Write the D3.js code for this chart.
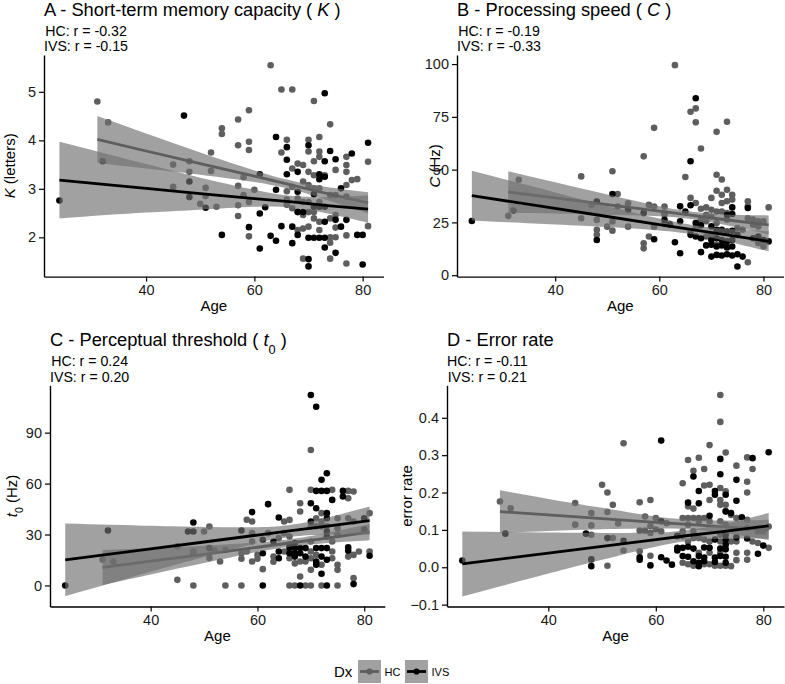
<!DOCTYPE html>
<html><head><meta charset="utf-8">
<script src="https://cdn.jsdelivr.net/npm/d3@7"></script>
<style>
body{margin:0;background:#fff}
svg text{font-family:"Liberation Sans",Arial,Helvetica,sans-serif}
</style>
</head><body>
<svg id="c" width="785" height="684"></svg>
<script>
// ---------------- data ----------------
const groups = ["HC", "IVS"];
const ageTicks = [40, 60, 80];
const ageLimits = [21.15, 83.85];

// Panel A: K (letters)  [age, value]
const A_HC = [[31,4.80],[33,4.37],[45,3.50],[45,3.04],[48,3.57],[48,3.35],[50,2.69],[51,3.02],[51,2.85],[52,3.75],[52,3.37],[53,2.63],[54,4.25],[54,4.13],[57,4.43],[57,3.90],[57,3.06],[57,2.66],[57,2.44],[58,3.24],[58,2.87],[59,4.62],[59,3.97],[59,3.80],[59,2.73],[59,2.02],[60,2.98],[63,5.55],[65,5.05],[65,3.75],[66,4.01],[66,2.95],[66,2.78],[66,2.67],[67,5.05],[67,3.42],[67,3.04],[67,2.60],[68,3.52],[68,2.80],[68,2.53],[68,2.15],[69,3.49],[69,3.15],[69,2.73],[69,2.46],[69,2.18],[69,1.56],[70,4.01],[70,3.77],[70,3.35],[70,3.08],[70,2.73],[70,2.52],[70,2.22],[71,4.81],[71,3.57],[71,3.28],[71,3.01],[71,2.52],[71,2.39],[72,4.07],[72,3.77],[72,3.66],[72,3.01],[72,2.73],[72,2.32],[72,2.15],[73,3.28],[74,4.33],[74,2.87],[74,2.39],[74,2.00],[74,1.89],[74,1.56],[75,3.39],[75,2.87],[75,2.46],[75,2.20],[75,2.00],[77,3.66],[77,3.49],[77,3.35],[77,3.08],[77,2.84],[77,2.04],[77,1.46],[78,3.18],[79,3.20],[81,3.56],[81,2.23]];
const A_IVS = [[24,2.76],[32,3.57],[47,4.51],[48,3.15],[48,2.83],[51,2.61],[54,2.05],[59,2.21],[61,3.30],[61,2.49],[61,1.77],[62,2.62],[63,2.03],[64,4.07],[64,2.98],[64,1.93],[65,2.23],[66,3.86],[66,3.60],[66,3.30],[67,2.22],[67,1.88],[68,3.35],[68,2.94],[68,2.52],[68,2.05],[69,2.52],[70,3.90],[70,1.99],[70,1.55],[70,1.40],[71,2.89],[71,2.63],[71,1.99],[72,3.30],[72,3.20],[72,2.63],[72,1.99],[73,4.97],[73,3.57],[73,3.25],[73,2.63],[73,2.32],[73,1.99],[73,1.79],[74,3.78],[75,3.61],[75,2.36],[75,1.68],[76,3.01],[76,2.22],[77,2.36],[78,3.73],[79,2.05],[80,2.05],[80,1.44],[81,3.95]];
// regression line + 95% band: [age, fit, lower, upper]
const A_HC_fit = [[31,4.02,3.54,4.50],[40,3.78,3.42,4.14],[50,3.52,3.29,3.75],[60,3.26,3.14,3.38],[66,3.10,3.01,3.19],[72,2.94,2.82,3.06],[81,2.71,2.49,2.93]];
const A_IVS_fit = [[24,3.18,2.39,3.97],[40,3.01,2.51,3.51],[50,2.90,2.57,3.23],[60,2.80,2.63,2.98],[67,2.73,2.61,2.85],[74,2.65,2.48,2.83],[81,2.58,2.30,2.86]];
const A_yTicks = [2, 3, 4, 5];

// Panel B: C (Hz)
const B_HC = [[31,28.1],[33,45.2],[45,46.8],[45,27.0],[47,33.3],[48,26.2],[48,21.5],[48,19.1],[50,23.0],[51,49.2],[51,25.4],[51,21.1],[52,38.4],[52,32.5],[54,34.1],[54,23.0],[57,56.3],[57,15.1],[57,12.7],[58,18.3],[58,33.3],[59,69.8],[59,32.5],[59,23.0],[61,32.5],[61,29.4],[61,28.6],[61,24.3],[62,24.3],[63,99.5],[65,46.5],[66,77.4],[66,36.6],[66,20.7],[67,79.0],[67,72.4],[67,34.2],[67,22.3],[68,60.0],[68,31.5],[68,26.3],[69,32.1],[69,28.6],[69,25.5],[69,18.3],[70,36.6],[70,31.0],[70,27.8],[70,19.1],[71,67.9],[71,47.6],[71,40.0],[71,30.2],[71,24.7],[71,14.4],[72,45.3],[72,38.1],[72,34.2],[72,30.2],[73,72.7],[73,40.5],[73,35.0],[73,29.4],[73,26.3],[73,13.6],[74,38.1],[74,35.8],[75,22.3],[76,21.5],[77,35.0],[77,32.6],[77,27.0],[77,6.1],[78,26.3],[78,23.9],[79,25.5],[79,23.1],[79,15.2],[80,25.5],[80,13.6],[81,32.1]];
const B_IVS = [[24,25.7],[32,30.6],[48,34.9],[48,16.7],[51,38.4],[54,31.0],[57,29.4],[59,17.0],[61,26.2],[62,23.9],[63,15.6],[64,32.6],[64,25.5],[64,10.4],[65,30.2],[66,54.0],[66,33.1],[66,19.1],[67,83.8],[67,24.7],[67,18.3],[68,23.6],[68,17.5],[68,10.9],[69,14.1],[70,23.1],[70,16.7],[70,14.4],[70,8.8],[71,21.5],[71,17.5],[71,13.6],[71,9.6],[72,21.5],[72,16.7],[72,14.1],[72,9.3],[73,28.5],[73,20.7],[73,16.0],[73,13.1],[73,9.9],[74,32.1],[74,29.0],[74,21.0],[74,16.7],[74,13.6],[74,9.3],[75,19.1],[75,9.9],[75,4.1],[76,8.8],[77,31.8],[78,17.5],[79,18.3],[80,16.7],[81,16.0]];
const B_HC_fit = [[31,39.4,29.6,49.2],[40,36.6,29.2,44.0],[50,33.4,28.6,38.2],[60,30.3,27.9,32.7],[66,28.4,26.6,30.2],[72,26.5,24.1,28.9],[81,23.8,19.3,28.3]];
const B_IVS_fit = [[24,37.7,25.9,49.5],[40,31.6,24.0,39.2],[50,27.8,22.8,32.8],[60,24.0,21.2,26.8],[66,21.7,19.5,23.9],[72,19.4,16.6,22.2],[81,16.0,11.3,20.8]];
const B_yTicks = [0, 25, 50, 75, 100];

// Panel C: t0 (Hz)
const C_HC = [[31,15.1],[33,14.1],[45,23.0],[45,3.3],[48,20.0],[48,18.6],[48,0],[50,31.8],[51,34.7],[51,16.1],[52,20.6],[53,14.1],[54,21.0],[54,0],[57,0],[57,19.0],[57,15.7],[58,38.7],[58,20.0],[59,37.7],[59,30.8],[59,25.9],[59,14.1],[60,15.7],[60,18.0],[61,9.6],[62,30.8],[63,17.0],[63,14.0],[64,27.9],[65,37.7],[65,30.8],[65,20.0],[66,56.3],[66,38.6],[66,28.8],[66,16.0],[66,0],[67,13.0],[67,0],[68,48.4],[68,43.6],[68,14.1],[68,5.3],[69,14.1],[69,0],[70,79.8],[70,56.3],[70,34.8],[70,25.9],[70,20.0],[70,16.0],[70,9.2],[70,0],[71,39.6],[71,34.8],[71,18.0],[72,42.6],[72,37.7],[72,34.8],[72,12.2],[72,0],[73,34.8],[74,56.3],[74,25.9],[74,20.0],[74,16.0],[75,39.6],[75,33.7],[75,29.8],[75,12.2],[75,9.2],[75,0],[77,55.7],[77,51.4],[77,39.6],[77,17.0],[78,55.3],[78,37.7],[78,18.0],[78,4.3],[79,20.0],[80,32.8],[81,42.6],[81,20.0]];
const C_IVS = [[24,0],[32,32.4],[47,31.8],[48,31.8],[48,37.1],[51,22.0],[57,32.4],[59,43.2],[61,26.9],[61,19.0],[61,0],[62,47.9],[63,25.9],[64,40.0],[64,20.0],[64,16.0],[66,24.0],[66,22.0],[66,19.0],[67,25.0],[67,22.0],[67,19.0],[67,17.0],[68,22.0],[68,19.0],[68,0],[69,22.0],[69,17.0],[70,112.2],[70,48.4],[70,37.7],[71,105.3],[71,55.7],[71,45.5],[71,22.0],[71,14.1],[71,12.2],[72,62.2],[72,55.7],[72,22.0],[72,17.0],[72,6.9],[73,66.1],[73,55.7],[73,42.6],[73,39.6],[73,31.8],[73,28.8],[73,22.0],[73,15.1],[73,0],[74,50.4],[76,55.7],[76,52.4],[77,22.4],[77,20.4],[78,0.8],[80,39.6],[80,33.0],[81,17.5]];
const C_HC_fit = [[31,10.6,0.3,20.9],[40,14.3,6.5,22.1],[50,18.3,13.2,23.4],[60,22.5,19.7,25.3],[66,25.0,22.8,27.2],[72,27.5,24.7,30.3],[81,31.4,26.6,36.2]];
const C_IVS_fit = [[24,15.1,-6.3,36.5],[40,21.6,8.1,35.1],[50,25.6,16.8,34.4],[60,29.7,25.1,34.3],[66,32.1,28.6,35.6],[72,34.5,29.9,39.1],[81,38.2,29.9,46.5]];
const C_yTicks = [0, 30, 60, 90];

// Panel D: error rate
const D_HC = [[31,0.176],[33,0.158],[45,0.172],[45,0.114],[48,0.145],[48,0.112],[48,0.087],[50,0.221],[51,0.200],[51,0.148],[51,0.004],[52,0.078],[52,0.167],[53,0.117],[54,0.332],[54,0.045],[57,0.174],[57,0.098],[57,0.043],[58,0.136],[58,0.098],[59,0.180],[59,0.110],[59,0.092],[59,0.031],[60,0.132],[60,0.101],[61,0.096],[62,0.118],[64,0.083],[65,0.225],[65,0.132],[65,0.096],[65,0.083],[65,0.012],[66,0.287],[66,0.163],[66,0.132],[66,0.114],[66,0.069],[66,0.008],[67,0.258],[67,0.157],[67,0.132],[67,0.096],[67,0.078],[67,0.004],[68,0.293],[68,0.132],[68,0.123],[68,0.078],[68,0.039],[69,0.263],[69,0.219],[69,0.132],[69,0.074],[69,0.008],[70,0.327],[70,0.221],[70,0.180],[70,0.123],[70,0.069],[70,0.039],[70,0.008],[71,0.004],[72,0.461],[72,0.389],[72,0.212],[72,0.180],[72,0.167],[72,0.123],[72,0.087],[72,0.069],[72,0.039],[72,0.004],[73,0.307],[73,0.203],[73,0.167],[73,0.151],[73,0.114],[73,0.004],[74,0.140],[74,0.069],[74,0.003],[75,0.272],[75,0.132],[75,0.069],[75,0.039],[75,0.019],[77,0.294],[77,0.229],[77,0.200],[77,0.127],[77,0.105],[77,0.039],[77,0.020],[78,0.263],[78,0.069],[79,0.096],[79,0.065],[80,0.096],[81,0.109],[81,0.052]];
const D_IVS = [[24,0.018],[32,0.090],[47,0.090],[48,0.021],[48,0.003],[51,0.078],[54,0.071],[57,0.027],[57,0.020],[59,0.005],[61,0.339],[61,0.123],[61,0.027],[62,0.018],[63,0.007],[64,0.084],[64,0.052],[64,0.045],[65,0.052],[65,0.030],[66,0.173],[66,0.055],[66,0.028],[67,0.243],[67,0.050],[67,0.016],[68,0.204],[68,0.171],[68,0.030],[68,0.012],[68,0.003],[69,0.053],[69,0.026],[69,0.016],[70,0.138],[70,0.052],[71,0.204],[71,0.194],[71,0.074],[71,0.026],[71,0.014],[72,0.290],[72,0.249],[72,0.050],[72,0.030],[73,0.194],[73,0.149],[73,0.087],[73,0.074],[73,0.060],[73,0.048],[73,0.028],[73,0.012],[74,0.145],[75,0.234],[75,0.178],[75,0.080],[76,0.134],[77,0.077],[78,0.292],[79,0.036],[80,0.058],[81,0.308]];
const D_HC_fit = [[31,0.149,0.092,0.206],[40,0.140,0.097,0.183],[50,0.130,0.102,0.159],[60,0.120,0.104,0.136],[66,0.115,0.102,0.128],[72,0.109,0.093,0.125],[81,0.100,0.073,0.127]];
const D_IVS_fit = [[24,0.009,-0.078,0.096],[40,0.038,-0.017,0.093],[50,0.056,0.020,0.092],[60,0.074,0.055,0.093],[66,0.085,0.070,0.100],[72,0.095,0.076,0.114],[81,0.111,0.077,0.145]];
const D_yTicks = [-0.1, 0.0, 0.1, 0.2, 0.3, 0.4];

const corrText = {
  A: ["HC: r = -0.32", "IVS: r = -0.15"],
  B: ["HC: r = -0.19", "IVS: r = -0.33"],
  C: ["HC: r = 0.24", "IVS: r = 0.20"],
  D: ["HC: r = -0.11", "IVS: r = 0.21"]
};

// ---------------- style / layout ----------------
const colHC = "#5e5e5e", colIVS = "#000000";
const ribbonFill = "#707070", ribbonOpacity = 0.66;
const FONT_TITLE = 18.3, FONT_SUB = 14.2, FONT_TICK = 14.5, FONT_AXT = 15;

const panels = [
  {id:"A", hc:A_HC, ivs:A_IVS, hcFit:A_HC_fit, ivsFit:A_IVS_fit, yTicks:A_yTicks, yLim:[1.19,5.76], fmt:d3.format("d"),
   l:44, r:383.5, t:55, b:276.6, titleY:15.5, subY:[35.5,51], xlabY:311, ylabX:15,
   title:[["A - Short-term memory capacity ( ",0],["K",1],[" )",0]], ylab:[["K",1],["  (letters)",0]]},
  {id:"B", hc:B_HC, ivs:B_IVS, hcFit:B_HC_fit, ivsFit:B_IVS_fit, yTicks:B_yTicks, yLim:[-0.67,104.3], fmt:d3.format("d"),
   l:457, r:783.5, t:55, b:276.6, titleY:15.5, subY:[35.5,51], xlabY:311, ylabX:440,
   title:[["B - Processing speed ( ",0],["C",1],[" )",0]], ylab:[["C",1],["  (Hz)",0]]},
  {id:"C", hc:C_HC, ivs:C_IVS, hcFit:C_HC_fit, ivsFit:C_IVS_fit, yTicks:C_yTicks, yLim:[-12.4,117.9], fmt:d3.format("d"),
   l:50, r:384.8, t:385.3, b:606.5, titleY:345.5, subY:[366,381.5], xlabY:641, ylabX:17,
   title:[["C - Perceptual threshold ( ",0],["t",1],["0",2],[" )",0]], ylab:[["t",1],["0",2],[" (Hz)",0]]},
  {id:"D", hc:D_HC, ivs:D_IVS, hcFit:D_HC_fit, ivsFit:D_IVS_fit, yTicks:D_yTicks, yLim:[-0.105,0.487], fmt:d3.format(".1f"),
   l:447, r:784, t:385.3, b:606.5, titleY:345.5, subY:[366,381.5], xlabY:641, ylabX:412,
   title:[["D - Error rate",0]], ylab:[["error rate",0]]}
];

const svg = d3.select("#c");

function richText(sel, parts, size) {
  parts.forEach(([txt, kind]) => {
    const ts = sel.append("tspan").text(txt);
    if (kind === 1) ts.attr("font-style", "italic");
    if (kind === 2) ts.attr("font-size", size * 0.7).attr("baseline-shift", "sub");
  });
}

panels.forEach(p => {
  const g = svg.append("g");
  const x = d3.scaleLinear().domain(ageLimits).range([p.l, p.r]);
  const y = d3.scaleLinear().domain(p.yLim).range([p.b, p.t]);

  // points: HC first, IVS on top
  g.append("g").selectAll("circle").data(p.hc).join("circle")
    .attr("cx", d => x(d[0])).attr("cy", d => y(d[1])).attr("r", 3.3).attr("fill", colHC);
  g.append("g").selectAll("circle").data(p.ivs).join("circle")
    .attr("cx", d => x(d[0])).attr("cy", d => y(d[1])).attr("r", 3.3).attr("fill", colIVS);

  // smoothers: ribbon then line for each group
  const area = d3.area().x(d => x(d[0])).y0(d => y(d[2])).y1(d => y(d[3])).curve(d3.curveNatural);
  const line = d3.line().x(d => x(d[0])).y(d => y(d[1]));
  [[p.hcFit, colHC], [p.ivsFit, colIVS]].forEach(([fit, col]) => {
    g.append("path").attr("d", area(fit)).attr("fill", ribbonFill).attr("fill-opacity", ribbonOpacity);
    g.append("path").attr("d", line(fit)).attr("fill", "none").attr("stroke", col).attr("stroke-width", 2.8);
  });

  // axes
  const xAxis = d3.axisBottom(x).tickValues(ageTicks).tickSize(5).tickPadding(3).tickSizeOuter(0);
  const gx = g.append("g").attr("transform", `translate(0,${p.b})`).call(xAxis);
  const yAxis = d3.axisLeft(y).tickValues(p.yTicks).tickFormat(p.fmt).tickSize(5).tickPadding(3).tickSizeOuter(0);
  const gy = g.append("g").attr("transform", `translate(${p.l},0)`).call(yAxis);
  [gx, gy].forEach(ax => {
    ax.select(".domain").attr("stroke", "#000").attr("stroke-width", 1.4);
    ax.selectAll(".tick line").attr("stroke", "#000").attr("stroke-width", 1.2);
    ax.selectAll(".tick text").attr("fill", "#1a1a1a").attr("font-size", FONT_TICK)
      .attr("font-family", '"Liberation Sans",Arial,sans-serif');
  });

  // axis titles
  svg.append("text").attr("x", (p.l + p.r) / 2).attr("y", p.xlabY).attr("text-anchor", "middle")
    .attr("font-size", FONT_AXT).attr("fill", "#000").text("Age");
  const yl = svg.append("text").attr("transform", `translate(${p.ylabX},${(p.t + p.b) / 2}) rotate(-90)`)
    .attr("text-anchor", "middle").attr("font-size", FONT_AXT).attr("fill", "#000");
  richText(yl, p.ylab, FONT_AXT);

  // title
  const tt = svg.append("text").attr("x", p.l).attr("y", p.titleY).attr("font-size", FONT_TITLE).attr("fill", "#000")
    .attr("xml:space", "preserve").style("white-space", "pre");
  richText(tt, p.title, FONT_TITLE);

  // correlation subtitle (two centred lines)
  const subs = corrText[p.id].map((s, i) => svg.append("text").attr("y", p.subY[i])
    .attr("font-size", FONT_SUB).attr("fill", "#000").attr("text-anchor", "middle").text(s));
  const w = d3.max(subs, s => s.node().getComputedTextLength());
  subs.forEach(s => s.attr("x", p.l + w / 2));
});

// legend
const lg = svg.append("g");
lg.append("text").attr("x", 334).attr("y", 677).attr("font-size", 15).attr("fill", "#000").text("Dx");
const keyX = [358, 405];
groups.forEach((gname, i) => {
  const col = i === 0 ? colHC : colIVS;
  const kx = keyX[i];
  lg.append("rect").attr("x", kx).attr("y", 660).attr("width", 23).attr("height", 23)
    .attr("fill", ribbonFill).attr("fill-opacity", ribbonOpacity);
  lg.append("line").attr("x1", kx + 2).attr("x2", kx + 21).attr("y1", 671.5).attr("y2", 671.5)
    .attr("stroke", col).attr("stroke-width", 2.8);
  lg.append("circle").attr("cx", kx + 11.5).attr("cy", 671.5).attr("r", 3.1).attr("fill", col);
  lg.append("text").attr("x", kx + 26.5).attr("y", 675.5).attr("font-size", 11).attr("fill", "#000").text(gname);
});
</script>
</body></html>
